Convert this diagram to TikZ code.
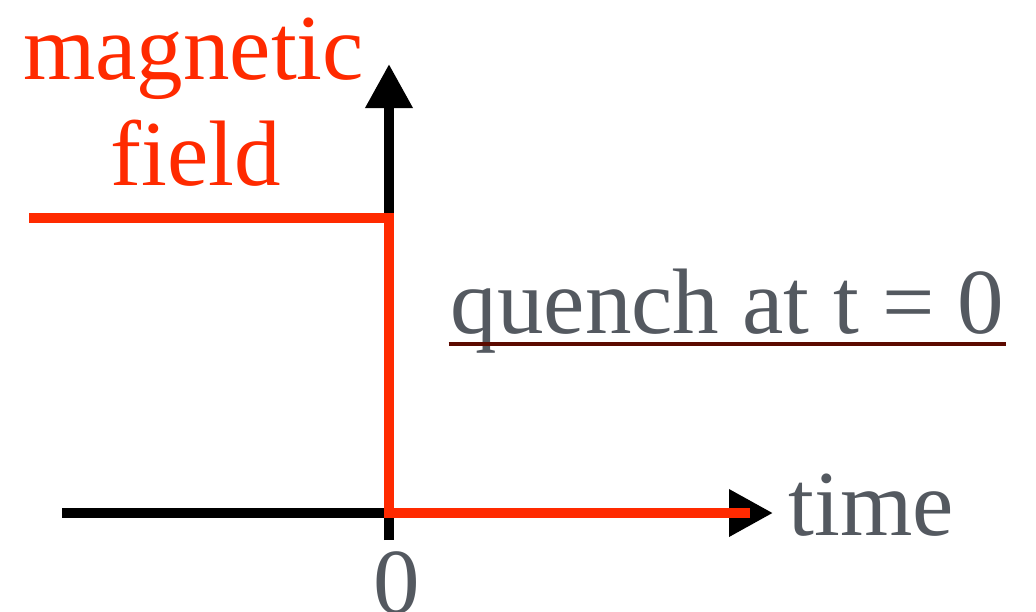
\documentclass[tikz,border=0pt]{standalone}
\usepackage{fontspec}
\setmainfont{Liberation Serif}
\usetikzlibrary{arrows.meta}
\definecolor{fieldred}{HTML}{FF2A00}
\definecolor{txtgray}{HTML}{545960}
\definecolor{ulred}{HTML}{5C0A00}
\tikzset{
  axis/.style={line width=10pt, black, -{Triangle[width=45pt,length=44pt]}},
  fieldline/.style={line width=10pt, fieldred, line join=miter},
  bigtext/.style={inner sep=0pt, anchor=base, font=\fontsize{93}{106}\selectfont},
  ulline/.style={line width=4pt, ulred}
}
\begin{document}
\begin{tikzpicture}[x=1pt,y=-1pt]
\useasboundingbox (0,0) rectangle (1036,611);
\clip (0,0) rectangle (1036,611);
% axes
\coordinate (ybot) at (389,540);
\coordinate (ytop) at (389,64);
\coordinate (xleft) at (62,513);
\coordinate (xright) at (773,513);
\draw[axis] (ybot) -- (ytop);
\draw[axis] (xleft) -- (xright);
% field curve
\coordinate (f0) at (29,218);
\coordinate (f1) at (389,218);
\coordinate (f2) at (389,512.5);
\coordinate (f3) at (750,512.5);
\draw[fieldline] (f0) -- (f1) -- (f2) -- (f3);
% labels
\node[bigtext, text=fieldred] (mag) at (193.5,79) {magnetic};
\node[bigtext, text=fieldred] (fld) at (195.5,185) {field};
\node[bigtext, text=txtgray] (q) at (727.5,333) {quench at t = 0};
\draw[ulline] ([xshift=-2pt,yshift=-11pt]q.base west) -- ([xshift=2pt,yshift=-11pt]q.base east);
\node[bigtext, text=txtgray] (time) at (871.5,535) {time};
\node[bigtext, text=txtgray] (zero) at (396.5,613) {0};
\end{tikzpicture}
\end{document}
